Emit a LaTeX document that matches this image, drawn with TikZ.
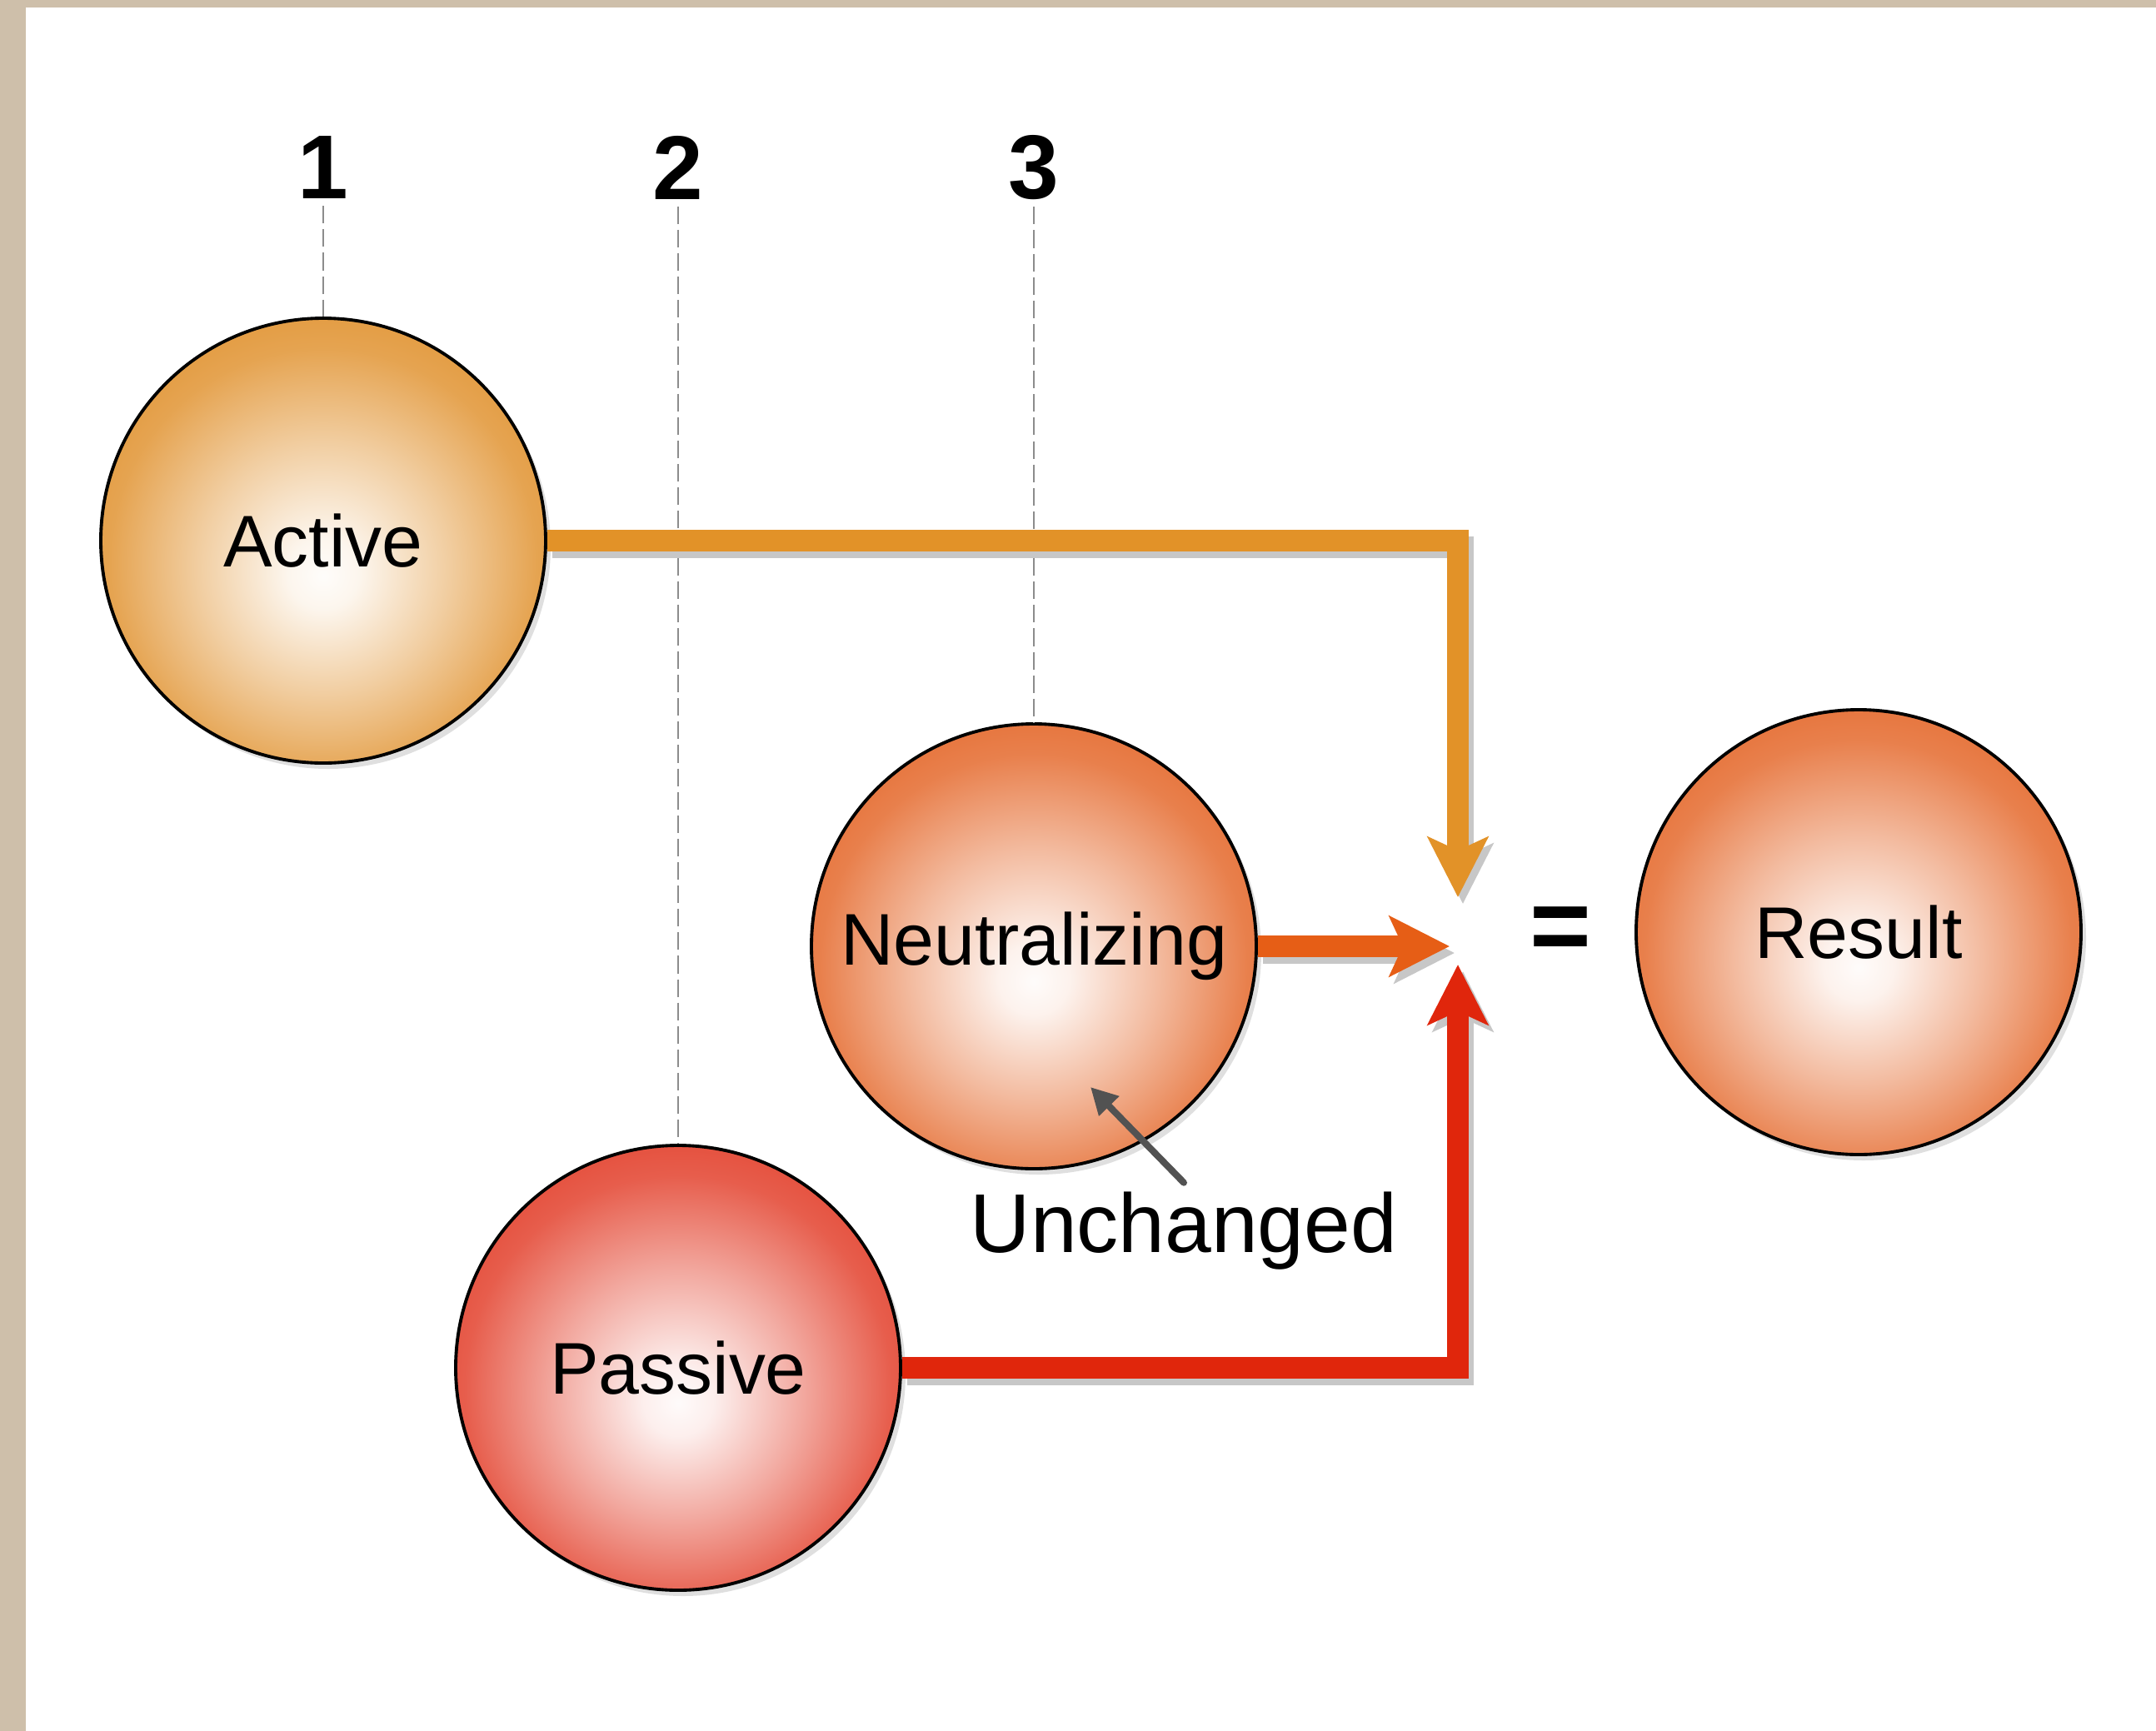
\documentclass[tikz,border=0pt]{standalone}
\usepackage{fontspec}
\setmainfont{Liberation Sans}
\usepackage{tikz}
\usetikzlibrary{arrows.meta}
\usetikzlibrary{shadows}

\definecolor{wall}{RGB}{206,191,170}
\definecolor{activeorange}{RGB}{222,138,32}
\definecolor{neutralorange}{RGB}{226,92,26}
\definecolor{passivered}{RGB}{224,48,26}
\definecolor{activeflow}{RGB}{226,146,40}
\definecolor{neutralflow}{RGB}{230,94,22}
\definecolor{passiveflow}{RGB}{224,38,12}

\colorlet{orbcol}{activeorange}
\pgfdeclareradialshading[orbcol]{orbshade}{\pgfpoint{0bp}{-4bp}}{%
  color(0bp)=(orbcol!2!white);
  color(4bp)=(orbcol!8!white);
  color(14bp)=(orbcol!42!white);
  color(24bp)=(orbcol!78!white);
  color(34bp)=(orbcol!95!white);
  color(42bp)=(orbcol);
  color(60bp)=(orbcol)}

\tikzset{
  orb fill/.code={\colorlet{orbcol}{#1}},
  orb/.style={circle, draw=black, line width=1.1pt, minimum size=5.34cm, inner sep=0pt,
    font=\fontsize{25}{30}\selectfont,
    drop shadow={shadow xshift=0.06cm, shadow yshift=-0.07cm, opacity=0.25},
    orb fill=#1, shade, shading=orbshade},
  num/.style={font=\fontsize{31}{34}\selectfont\bfseries, inner sep=0.08cm},
  guide/.style={draw=black!45, line width=0.7pt, dash pattern=on 6pt off 2pt},
  flow/.style={line width=0.26cm, -{Stealth[length=0.72cm, width=0.72cm, inset=0.16cm]}},
  flowshadow/.style={flow, draw=black!22, transform canvas={shift={(0.06,0.08)}}},
  pointer/.style={draw=black!68, line width=0.08cm, line cap=round,
    -{Triangle[length=0.32cm, width=0.32cm]}}
}

\begin{document}
\begin{tikzpicture}[x=1cm, y=-1cm]
            % Frame
            \useasboundingbox (0,0) rectangle (25.88,20.78);
            \fill[white] (0,0) rectangle (25.88,20.78);
            \fill[wall] (0,0) rectangle (25.88,0.09);
            \fill[wall] (0,0) rectangle (0.31,20.78);

            % Nodes
            \node[orb=activeorange] (A) at (3.88, 6.49) {Active};
            \node[orb=neutralorange] (N) at (12.41, 11.36) {Neutralizing};
            \node[orb=passivered] (P) at (8.14, 16.42) {Passive};
            \node[orb=neutralorange] (R) at (22.31, 11.19) {Result};

            \node[num] (n1) at (3.88, 2.01) {1};
            \node[num] (n2) at (8.14, 2.01) {2};
            \node[num] (n3) at (12.41, 2.01) {3};

            \node[font=\fontsize{36}{40}\selectfont\bfseries] (eq) at (18.73, 11.22) {=};
            \node[font=\fontsize{28.5}{32}\selectfont, anchor=base, inner sep=0.1cm] (unch) at (14.21, 15.03) {Unchanged};

            \coordinate (intop) at (17.50, 10.77);
            \coordinate (inleft) at (17.40, 11.36);
            \coordinate (inbot) at (17.50, 11.58);
            \coordinate (spot) at (13.09, 13.05);

            % Lines
            \draw[guide] (n1) -- (A);
            \draw[guide] (n2) -- (P);
            \draw[guide] (n3) -- (N);

            \draw[flowshadow] (A.east) -| (intop);
            \draw[flowshadow] (N.east) -- (inleft);
            \draw[flowshadow] (P.east) -| (inbot);

            \draw[flow, activeflow] (A.east) -| (intop);
            \draw[flow, neutralflow] (N.east) -- (inleft);
            \draw[flow, passiveflow] (P.east) -| (inbot);

            \draw[pointer] (unch.north) -- (spot);
        \end{tikzpicture}
\end{document}
